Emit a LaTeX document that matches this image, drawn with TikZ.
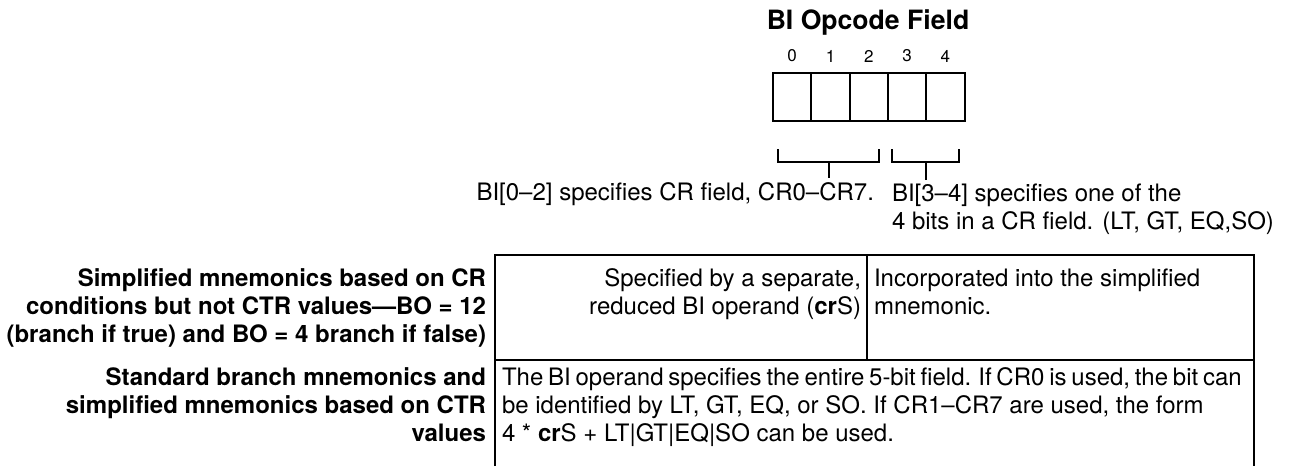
\documentclass[tikz,border=0pt]{standalone}
\usepackage{fontspec}
\setmainfont{TeX Gyre Heros}
\usetikzlibrary{positioning}

\begin{document}
\begin{tikzpicture}[x=0.5pt,y=-0.5pt,line width=1pt,
  txt/.style={inner sep=0pt,font=\fontsize{12}{14}\selectfont},
  lbl/.style={txt,font=\fontsize{12}{14}\selectfont\bfseries,align=right,anchor=north east},
  cell/.style={draw,minimum width=19.15pt,minimum height=24pt,inner sep=0pt,outer sep=0pt},
  bitnum/.style={inner sep=0pt,font=\fontsize{8.5}{9}\selectfont}]
  \useasboundingbox (0,0) rectangle (1290,466);

  % opcode field
  \node[inner sep=0pt,font=\fontsize{13.3}{15}\selectfont\bfseries] (title) at (868,22) {BI Opcode Field};
  \foreach \i in {0,...,4} {
    \node[cell] (b\i) at (792.2+38.3*\i,97) {};
    \node[bitnum,above=5pt of b\i] (n\i) {\i};
  }

  % brackets under the field
  \coordinate (lbr) at (829,162);
  \coordinate (rbr) at (926,162);
  \draw (778,149) |- (879,162) -- (879,149);
  \draw (892,149) |- (959,162) -- (959,149);
  \node[txt,anchor=base east] (lnote) at (875,200) {BI[0--2] specifies CR field, CR0--CR7.};
  \node[txt,anchor=north west,align=left] (rnote) at (891,183) {BI[3--4] specifies one of the\\4 bits in a CR field. (LT, GT, EQ,SO)};
  \draw (lbr) -- ([yshift=1.5pt]lbr |- lnote.north);
  \draw (rbr) -- ([yshift=1.5pt]rbr |- rnote.north);

  % table
  \draw (495,466) -- (495,255) -- (1254,255) -- (1254,466);
  \draw (495,360) -- (1254,360);
  \draw (867,255) -- (867,360);

  \node[lbl] (lab1) at (487,267.5) {Simplified mnemonics based on CR\\conditions but not CTR values---BO = 12\\(branch if true) and BO = 4 branch if false)};
  \node[txt,align=right,anchor=north east] (mid1) at (862,267.5) {Specified by a separate,\\reduced BI operand (\textbf{cr}S)};
  \node[txt,align=left,anchor=north west] (rt1) at (873,267.5) {Incorporated into the simplified\\mnemonic.};
  \node[lbl] (lab2) at (487,366.5) {Standard branch mnemonics and\\simplified mnemonics based on CTR\\values};
  \node[txt,align=left,anchor=north west] (row2) at (501,366.5) {{\spaceskip=2.4pt The BI operand specifies the entire 5-bit field. If CR0 is used, the bit can}\\be identified by LT, GT, EQ, or SO. If CR1--CR7 are used, the form\\4 * \textbf{cr}S + LT\textbar GT\textbar EQ\textbar SO can be used.};
\end{tikzpicture}
\end{document}
